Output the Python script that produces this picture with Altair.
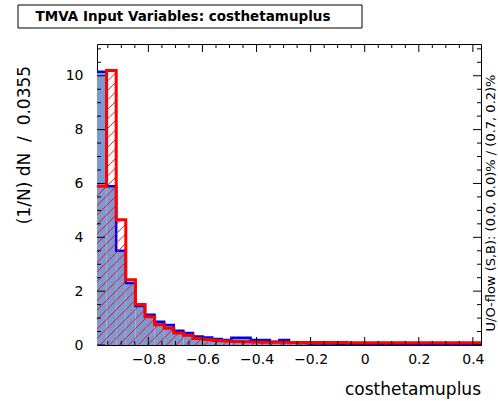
import altair as alt
import pandas as pd
import numpy as np

# ---------------- data ----------------
x_min, x_max = -0.99, 0.43
y_max = 11.18
n_bins = 40

signal = [10.15, 5.9, 3.5, 2.3, 1.45, 1.12, 0.86, 0.74, 0.53, 0.45,
          0.32, 0.28, 0.22, 0.19, 0.27, 0.27, 0.19, 0.19, 0.12, 0.19,
          0.08, 0.07, 0.06, 0.06, 0.06, 0.05, 0.05, 0.05, 0.05, 0.05,
          0.05, 0.05, 0.04, 0.04, 0.04, 0.04, 0.04, 0.04, 0.04, 0.05]
background = [5.9, 10.2, 4.65, 2.42, 1.5, 1.05, 0.75, 0.62, 0.45, 0.36,
              0.24, 0.2, 0.17, 0.15, 0.13, 0.12, 0.11, 0.1, 0.1, 0.1,
              0.09, 0.09, 0.09, 0.09, 0.09, 0.09, 0.08, 0.08, 0.08, 0.08,
              0.08, 0.08, 0.08, 0.08, 0.08, 0.08, 0.08, 0.08, 0.08, 0.08]

x_major = [-0.8, -0.6, -0.4, -0.2, 0.0, 0.2, 0.4]
x_minor = [round(-0.95 + 0.05 * i, 2) for i in range(28)]
y_major = [0, 2, 4, 6, 8, 10]
y_minor = [0.5 * i for i in range(1, 23)]

NB = "\u00a0"
title_text = "TMVA Input Variables: costhetamuplus"
x_title = "costhetamuplus"
y_title = "(1/N) dN" + NB * 2 + "/" + NB * 2 + "0.0355"
flow_text = "U/O-flow (S,B): (0.0, 0.0)% / (0.7, 0.2)%"

# ---------------- geometry ----------------
W, H = 384, 301
PAD_L, PAD_T, PAD_R, PAD_B = 97, 44, 17, 56
FONT = "DejaVu Sans"

edges = np.linspace(x_min, x_max, n_bins + 1)
bins = pd.DataFrame({"lo": edges[:-1], "hi": edges[1:],
                     "sig": signal, "bkg": background})


def outline(vals):
    xs_ = list(edges[:-1]) + [edges[-1]]
    ys_ = list(vals) + [vals[-1]]
    return pd.DataFrame({"x": xs_, "y": ys_, "o": range(len(xs_))})


def to_px_x(v):
    return (v - x_min) / (x_max - x_min) * W


def to_px_y(v):
    return v / y_max * H


# hatch segments for background (clipped per bin rectangle, 45 deg in pixels)
segs = []
spacing = 9.5
for lo, hi, h in zip(edges[:-1], edges[1:], background):
    a, b, hp = to_px_x(lo), to_px_x(hi), to_px_y(h)
    c = -H
    while c < W:
        xs0 = max(a, c)
        xe0 = min(b, c + hp)
        if xe0 > xs0:
            segs.append({
                "x1": x_min + xs0 / W * (x_max - x_min),
                "y1": (xs0 - c) / H * y_max,
                "x2": x_min + xe0 / W * (x_max - x_min),
                "y2": (xe0 - c) / H * y_max,
            })
        c += spacing
hatch = pd.DataFrame(segs)

xs = alt.Scale(domain=[x_min, x_max], nice=False, zero=False)
ys = alt.Scale(domain=[0, y_max], nice=False, zero=False)

SIG_FILL = "#7d99d1"
SIG_LINE = "#0000ee"
BKG = "#ff0000"

sig_fill = alt.Chart(bins).mark_rect(color=SIG_FILL).encode(
    x=alt.X("lo:Q", scale=xs,
            axis=alt.Axis(values=x_major, ticks=False, domain=False, grid=False,
                          labelFont=FONT, labelFontSize=14, labelColor="black",
                          labelPadding=7, format=".1~f", title=None,
                          labelFlush=False, labelOverlap=False)),
    x2="hi:Q",
    y=alt.Y("sig:Q", scale=ys,
            axis=alt.Axis(values=y_major, ticks=False, domain=False, grid=False,
                          labelFont=FONT, labelFontSize=14, labelColor="black",
                          labelPadding=14, format="d", title=None,
                          labelFlush=False, labelOverlap=False)),
    y2=alt.datum(0),
)

sig_line = alt.Chart(outline(signal)).mark_line(
    interpolate="step-after", color=SIG_LINE, strokeWidth=2.5
).encode(x=alt.X("x:Q", scale=xs), y=alt.Y("y:Q", scale=ys), order="o:Q")

bkg_hatch = alt.Chart(hatch).mark_rule(color=BKG, strokeWidth=0.9).encode(
    x=alt.X("x1:Q", scale=xs), y=alt.Y("y1:Q", scale=ys), x2="x2:Q", y2="y2:Q"
)

bkg_line = alt.Chart(outline(background)).mark_line(
    interpolate="step-after", color=BKG, strokeWidth=3
).encode(x=alt.X("x:Q", scale=xs), y=alt.Y("y:Q", scale=ys), order="o:Q")


def xticks(vals, length):
    d = pd.DataFrame({"v": vals})
    bot = alt.Chart(d).mark_rule(color="black", strokeWidth=1).encode(
        x=alt.X("v:Q", scale=xs), y=alt.value(H), y2=alt.value(H - length))
    top = alt.Chart(d).mark_rule(color="black", strokeWidth=1).encode(
        x=alt.X("v:Q", scale=xs), y=alt.value(0), y2=alt.value(length))
    return [bot, top]


def yticks(vals, length):
    d = pd.DataFrame({"v": vals})
    left = alt.Chart(d).mark_rule(color="black", strokeWidth=1).encode(
        y=alt.Y("v:Q", scale=ys), x=alt.value(0), x2=alt.value(length))
    right = alt.Chart(d).mark_rule(color="black", strokeWidth=1).encode(
        y=alt.Y("v:Q", scale=ys), x=alt.value(W), x2=alt.value(W - length))
    return [left, right]


x_minor_only = [v for v in x_minor if abs(v * 5 - round(v * 5)) > 1e-6]
y_minor_only = [v for v in y_minor if v % 2 != 0]
ticks = (xticks(x_major, 8) + xticks(x_minor_only, 4)
         + yticks(y_major, 8) + yticks(y_minor_only, 4))

one = pd.DataFrame({"t": [0]})

title_box = alt.Chart(one).mark_rect(fill="white", stroke="black", strokeWidth=1).encode(
    x=alt.value(18 - PAD_L), x2=alt.value(362 - PAD_L),
    y=alt.value(5 - PAD_T), y2=alt.value(28 - PAD_T))

title_mark = alt.Chart(pd.DataFrame({"t": [title_text]})).mark_text(
    font=FONT, fontSize=13.5, fontWeight="bold", align="center", baseline="middle",
    color="black").encode(x=alt.value(183 - PAD_L), y=alt.value(17 - PAD_T), text="t:N")

xtitle_mark = alt.Chart(pd.DataFrame({"t": [x_title]})).mark_text(
    font=FONT, fontSize=17, align="right", baseline="alphabetic", color="black"
).encode(x=alt.value(W), y=alt.value(395 - PAD_T), text="t:N")

ytitle_mark = alt.Chart(pd.DataFrame({"t": [y_title]})).mark_text(
    font=FONT, fontSize=17, align="center", baseline="middle", angle=270, color="black"
).encode(x=alt.value(25 - PAD_L), y=alt.value(145 - PAD_T), text="t:N")

flow_mark = alt.Chart(pd.DataFrame({"t": [flow_text]})).mark_text(
    font=FONT, fontSize=13, align="center", baseline="middle", angle=270, color="black"
).encode(x=alt.value(491 - PAD_L), y=alt.value(203 - PAD_T), text="t:N")

chart = alt.layer(
    sig_fill, sig_line, bkg_hatch, bkg_line, *ticks,
    title_box, title_mark, xtitle_mark, ytitle_mark, flow_mark
).properties(
    width=W, height=H,
    autosize=alt.AutoSizeParams(type="none"),
    padding={"left": PAD_L, "top": PAD_T, "right": PAD_R, "bottom": PAD_B},
    background="white",
).configure_view(stroke="black", strokeWidth=1)

chart.save("out.html", embed_options={"renderer": "svg", "actions": False})
